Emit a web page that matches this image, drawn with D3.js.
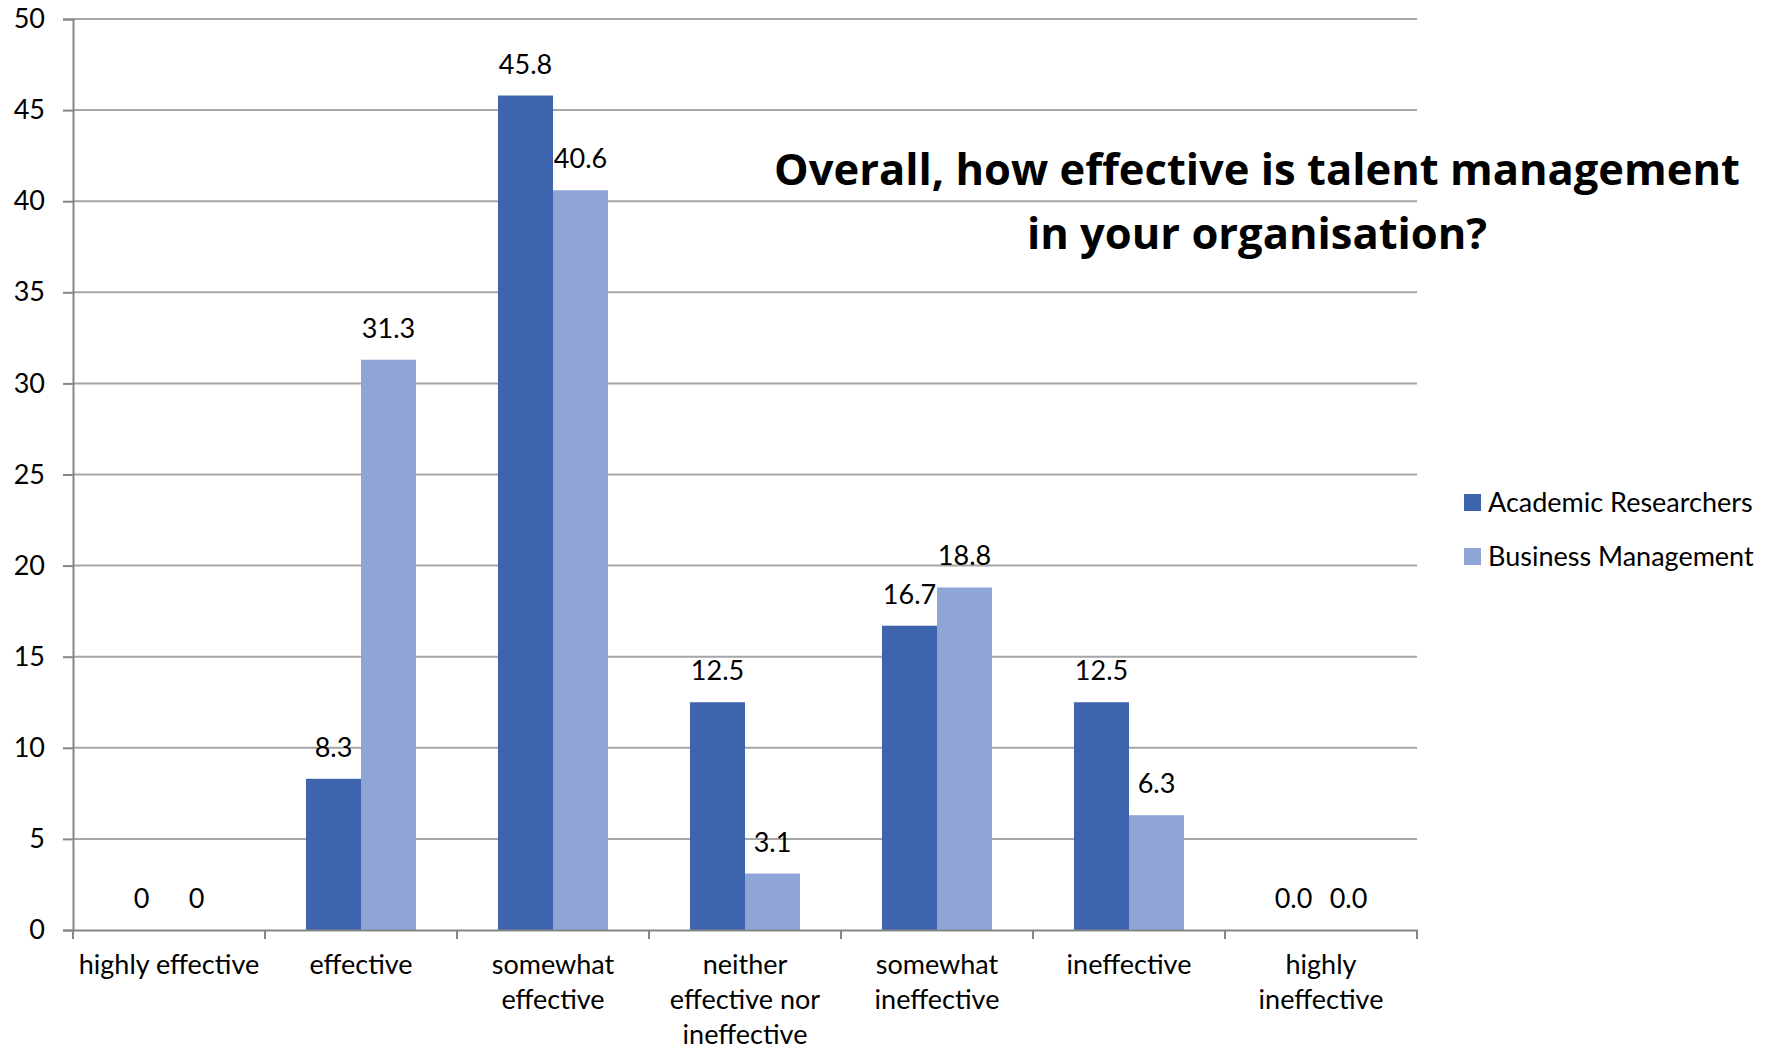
<!DOCTYPE html>
<html>
<head>
<meta charset="utf-8">
<script src="https://cdn.jsdelivr.net/npm/d3@7"></script>
<style>
  html, body { margin: 0; padding: 0; background: #fff; }
  svg text { font-family: Lato, "Open Sans", sans-serif; fill: #000; }
</style>
</head>
<body>
<svg id="chart" width="1776" height="1051"></svg>
<script>
// Survey answers: share of respondents (%) per rating
const categories = [
  ["highly effective"],
  ["effective"],
  ["somewhat", "effective"],
  ["neither", "effective nor", "ineffective"],
  ["somewhat", "ineffective"],
  ["ineffective"],
  ["highly", "ineffective"]
];
const seriesNames = ["Academic Researchers", "Business Management"];
const academicValues = [0, 8.3, 45.8, 12.5, 16.7, 12.5, 0.0];
const businessValues = [0, 31.3, 40.6, 3.1, 18.8, 6.3, 0.0];
// Value labels as printed on the chart
const academicLabels = ["0", "8.3", "45.8", "12.5", "16.7", "12.5", "0.0"];
const businessLabels = ["0", "31.3", "40.6", "3.1", "18.8", "6.3", "0.0"];
const yTicks = [0, 5, 10, 15, 20, 25, 30, 35, 40, 45, 50];
const titleLines = ["Overall, how effective is talent management", "in your organisation?"];

const colors = ["#3d64ad", "#8fa5d6"];
const seriesValues = [academicValues, businessValues];
const seriesLabels = [academicLabels, businessLabels];
const fontSize = 27;

const svg = d3.select("#chart");
const plot = { left: 73, right: 1417, top: 19, bottom: 930 };

const x = d3.scaleBand()
  .domain(d3.range(categories.length))
  .range([plot.left, plot.right])
  .paddingInner(0)
  .paddingOuter(0);

const xInner = d3.scaleBand()
  .domain(d3.range(seriesNames.length))
  .range([0, x.bandwidth()])
  .paddingOuter(0.745)
  .paddingInner(0);

const y = d3.scaleLinear().domain([0, 50]).range([plot.bottom, plot.top]);

// Horizontal gridlines
svg.append("g")
  .selectAll("line")
  .data(yTicks.filter(t => t > 0))
  .join("line")
  .attr("x1", plot.left)
  .attr("x2", plot.right)
  .attr("y1", d => y(d))
  .attr("y2", d => y(d))
  .attr("stroke", "#a6a6a6")
  .attr("stroke-width", 2);

// Y axis
const yAxis = svg.append("g")
  .attr("transform", `translate(${plot.left},0)`)
  .call(d3.axisLeft(y).tickValues(yTicks).tickSize(10).tickPadding(18).tickFormat(d3.format("d")));
yAxis.select(".domain").attr("stroke", "#868686").attr("stroke-width", 2);
yAxis.selectAll(".tick line").attr("stroke", "#868686").attr("stroke-width", 2);
yAxis.selectAll(".tick text")
  .attr("font-size", fontSize)
  .style("font-family", "Lato, sans-serif")
  .attr("fill", "#000");

// Bars
const groups = svg.append("g")
  .selectAll("g")
  .data(categories.map((c, i) => i))
  .join("g")
  .attr("transform", i => `translate(${x(i)},0)`);

groups.selectAll("rect")
  .data(i => seriesValues.map((vals, s) => ({ s, v: vals[i] })))
  .join("rect")
  .attr("x", d => xInner(d.s))
  .attr("width", xInner.bandwidth())
  .attr("y", d => y(d.v))
  .attr("height", d => y(0) - y(d.v))
  .attr("fill", d => colors[d.s]);

// Value labels above bars
groups.selectAll("text.val")
  .data(i => seriesValues.map((vals, s) => ({ s, v: vals[i], t: seriesLabels[s][i] })))
  .join("text")
  .attr("class", "val")
  .attr("x", d => xInner(d.s) + xInner.bandwidth() / 2)
  .attr("y", d => y(d.v) - 22)
  .attr("text-anchor", "middle")
  .attr("font-size", fontSize)
  .text(d => d.t);

// X axis
const xAxis = svg.append("g")
  .attr("transform", `translate(0,${plot.bottom})`)
  .call(d3.axisBottom(x).tickSize(0).tickFormat(""));
xAxis.select(".domain").attr("stroke", "#868686").attr("stroke-width", 2);

// Category separators on the x axis
svg.append("g")
  .selectAll("line")
  .data(d3.range(categories.length + 1))
  .join("line")
  .attr("x1", i => plot.left + i * x.bandwidth())
  .attr("x2", i => plot.left + i * x.bandwidth())
  .attr("y1", plot.bottom)
  .attr("y2", plot.bottom + 9)
  .attr("stroke", "#868686")
  .attr("stroke-width", 2);

// Category labels (multi-line)
svg.append("g")
  .selectAll("text")
  .data(categories.map((c, i) => ({ c, i })))
  .join("text")
  .attr("text-anchor", "middle")
  .attr("font-size", fontSize)
  .attr("transform", d => `translate(${x(d.i) + x.bandwidth() / 2},${plot.bottom + 44})`)
  .selectAll("tspan")
  .data(d => d.c)
  .join("tspan")
  .attr("x", 0)
  .attr("y", (d, k) => k * 35)
  .text(d => d);

// Title
svg.append("text")
  .attr("text-anchor", "middle")
  .attr("font-size", 43.5)
  .attr("font-weight", "bold")
  .style("font-family", "'Open Sans', sans-serif")
  .attr("transform", "translate(1257,185)")
  .selectAll("tspan")
  .data(titleLines)
  .join("tspan")
  .attr("x", 0)
  .attr("y", (d, k) => k * 64)
  .text(d => d);

// Legend
const legend = svg.append("g")
  .selectAll("g")
  .data(seriesNames.map((n, s) => ({ n, s })))
  .join("g")
  .attr("transform", d => `translate(1464,${503 + d.s * 54})`);
legend.append("rect")
  .attr("x", 0)
  .attr("y", -9)
  .attr("width", 17)
  .attr("height", 17)
  .attr("fill", d => colors[d.s]);
legend.append("text")
  .attr("x", 24)
  .attr("y", 0)
  .attr("dy", "0.35em")
  .attr("font-size", fontSize)
  .text(d => d.n);
</script>
</body>
</html>
